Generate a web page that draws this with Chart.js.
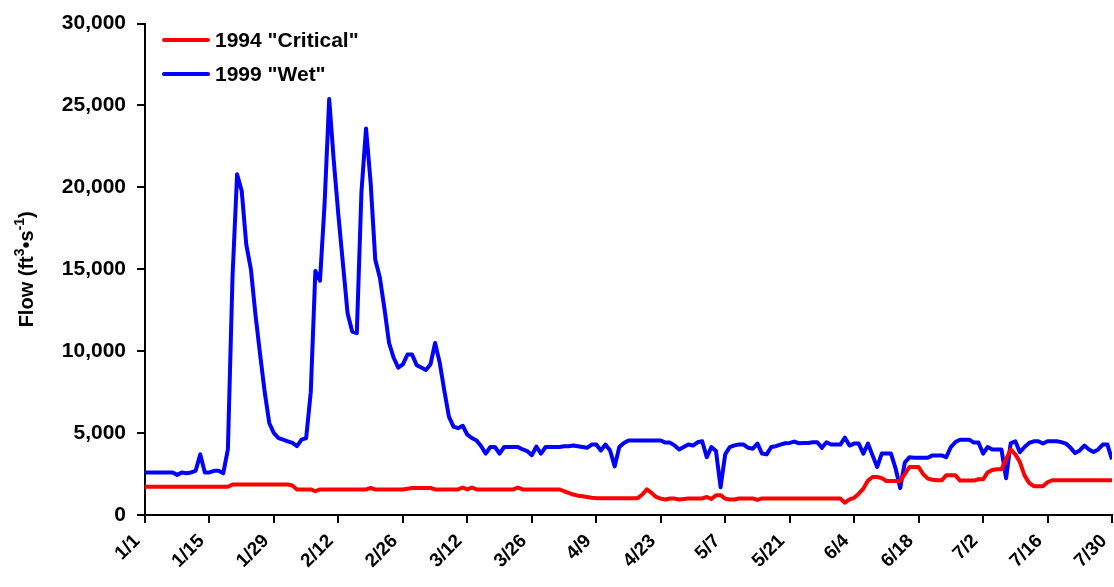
<!DOCTYPE html>
<html>
<head>
<meta charset="utf-8">
<script src="https://cdn.jsdelivr.net/npm/chart.js@4/dist/chart.umd.min.js"></script>
<style>
  html, body { margin: 0; padding: 0; background: #fff; }
  #wrap { width: 1114px; height: 587px; }
</style>
</head>
<body>
<div id="wrap"><canvas id="flowChart"></canvas></div>
<script>
// Tick labels on the date axis (one every 14 days starting 1/1)
const dateLabels = ['1/1', '1/15', '1/29', '2/12', '2/26', '3/12', '3/26', '4/9',
                    '4/23', '5/7', '5/21', '6/4', '6/18', '7/2', '7/16', '7/30'];

// Daily flow, day 0 = 1/1 (ft3/s)
const flow1994 = [
    1720, 1720, 1720, 1720, 1720, 1720, 1720, 1720, 1720, 1720,
    1720, 1720, 1720, 1720, 1720, 1720, 1720, 1720, 1720, 1860,
    1860, 1860, 1860, 1860, 1860, 1860, 1860, 1860, 1860, 1860,
    1860, 1860, 1800, 1560, 1560, 1560, 1560, 1450, 1560, 1560,
    1560, 1560, 1560, 1560, 1560, 1560, 1560, 1560, 1560, 1650,
    1560, 1560, 1560, 1560, 1560, 1560, 1560, 1600, 1650, 1650,
    1650, 1650, 1650, 1560, 1560, 1560, 1560, 1560, 1560, 1680,
    1560, 1680, 1560, 1560, 1560, 1560, 1560, 1560, 1560, 1560,
    1560, 1680, 1560, 1560, 1560, 1560, 1560, 1560, 1560, 1560,
    1560, 1450, 1350, 1250, 1180, 1150, 1100, 1050, 1030, 1030,
    1030, 1030, 1030, 1030, 1030, 1030, 1030, 1030, 1250, 1560,
    1350, 1100, 1000, 950, 1010, 1000, 950, 980, 1010, 1010,
    1010, 1010, 1100, 980, 1210, 1210, 1000, 950, 950, 1010,
    1010, 1010, 1010, 920, 1010, 1010, 1010, 1010, 1010, 1010,
    1010, 1010, 1010, 1010, 1010, 1010, 1010, 1010, 1010, 1010,
    1010, 1010, 750, 950, 1050, 1300, 1610, 2100, 2320, 2320,
    2250, 2080, 2080, 2080, 2080, 2500, 2930, 2930, 2930, 2500,
    2220, 2150, 2120, 2120, 2420, 2420, 2420, 2100, 2100, 2100,
    2100, 2180, 2180, 2600, 2750, 2790, 2800, 3400, 4000, 3700,
    3230, 2420, 1960, 1760, 1760, 1760, 2000, 2120, 2120, 2120,
    2120, 2120, 2120, 2120, 2120, 2120, 2120, 2120, 2120, 2120,
    2120
];

const flow1999 = [
    2600, 2600, 2600, 2600, 2600, 2600, 2600, 2450, 2600, 2550,
    2600, 2700, 3700, 2600, 2600, 2700, 2700, 2550, 4000, 14500,
    20800, 19800, 16500, 15000, 12200, 9800, 7500, 5600, 5000, 4700,
    4600, 4500, 4400, 4200, 4600, 4700, 7500, 14900, 14300, 19000,
    25400, 21600, 18300, 15300, 12300, 11200, 11100, 19700, 23600, 20300,
    15600, 14500, 12600, 10500, 9600, 9000, 9200, 9800, 9800, 9150,
    9000, 8850, 9200, 10500, 9300, 7600, 6000, 5400, 5300, 5450,
    4900, 4700, 4550, 4200, 3750, 4150, 4150, 3750, 4150, 4150,
    4150, 4150, 4000, 3900, 3650, 4180, 3750, 4150, 4150, 4150,
    4150, 4200, 4200, 4240, 4200, 4150, 4100, 4300, 4300, 3940,
    4300, 3940, 2970, 4150, 4400, 4550, 4550, 4550, 4550, 4550,
    4550, 4550, 4550, 4420, 4420, 4250, 4000, 4150, 4300, 4240,
    4440, 4500, 3530, 4150, 3900, 1700, 3700, 4150, 4250, 4300,
    4300, 4100, 4050, 4360, 3750, 3700, 4150, 4200, 4300, 4380,
    4400, 4480, 4380, 4400, 4400, 4440, 4440, 4100, 4440, 4300,
    4300, 4300, 4720, 4240, 4360, 4360, 3750, 4360, 3640, 2930,
    3750, 3750, 3750, 2850, 1640, 3200, 3530, 3500, 3500, 3500,
    3500, 3640, 3640, 3640, 3530, 4150, 4450, 4600, 4600, 4600,
    4420, 4420, 3750, 4150, 4000, 4000, 4000, 2240, 4380, 4500,
    3840, 4150, 4400, 4500, 4500, 4360, 4500, 4500, 4500, 4450,
    4360, 4100, 3780, 3940, 4240, 4000, 3840, 4000, 4300, 4300,
    3400
];

const seriesNames = ['1994 "Critical"', '1999 "Wet"'];
const seriesColors = ['#ff0000', '#0000ff'];

const FONT = '"Liberation Sans", Arial, sans-serif';

const toPoints = arr => arr.map((v, i) => ({ x: i, y: v }));

// Legend drawn inside the plot area, top-left
const insideLegend = {
    id: 'insideLegend',
    afterDraw(chart) {
        const ctx = chart.ctx;
        ctx.save();
        chart.data.datasets.forEach((ds, i) => {
            const y = 40 + i * 34;
            ctx.strokeStyle = ds.borderColor;
            ctx.lineWidth = 4;
            ctx.lineCap = 'round';
            ctx.beginPath();
            ctx.moveTo(164, y);
            ctx.lineTo(208, y);
            ctx.stroke();
            ctx.fillStyle = '#000';
            ctx.font = 'bold 21px ' + FONT;
            ctx.textBaseline = 'middle';
            ctx.fillText(ds.label, 215, y + 1);
        });
        ctx.restore();
    }
};

// Y axis title with real superscripts: Flow (ft^3 • s^-1)
const yTitle = {
    id: 'yTitle',
    afterDraw(chart) {
        const ctx = chart.ctx;
        const parts = [
            { t: 'Flow (ft', sup: false },
            { t: '3', sup: true },
            { t: '•s', sup: false },
            { t: '-1', sup: true },
            { t: ')', sup: false }
        ];
        const big = 'bold 20px ' + FONT, small = 'bold 14px ' + FONT;
        ctx.save();
        let total = 0;
        parts.forEach(p => { ctx.font = p.sup ? small : big; p.w = ctx.measureText(p.t).width; total += p.w; });
        const cy = (chart.chartArea.top + chart.chartArea.bottom) / 2;
        ctx.translate(33, cy);
        ctx.rotate(-Math.PI / 2);
        ctx.fillStyle = '#000';
        ctx.textBaseline = 'alphabetic';
        let x = -total / 2;
        parts.forEach(p => {
            ctx.font = p.sup ? small : big;
            ctx.fillText(p.t, x, p.sup ? -9 : 0);
            x += p.w;
        });
        ctx.restore();
    }
};

new Chart(document.getElementById('flowChart'), {
    type: 'line',
    data: {
        datasets: [
            {
                label: seriesNames[0],
                data: toPoints(flow1994),
                borderColor: seriesColors[0],
                borderWidth: 4,
                pointRadius: 0,
                tension: 0,
                borderJoinStyle: 'round'
            },
            {
                label: seriesNames[1],
                data: toPoints(flow1999),
                borderColor: seriesColors[1],
                borderWidth: 4,
                pointRadius: 0,
                tension: 0,
                borderJoinStyle: 'round'
            }
        ]
    },
    options: {
        responsive: true,
        maintainAspectRatio: false,
        animation: false,
        layout: { padding: { top: 20, right: 2, left: 0, bottom: 0 } },
        plugins: {
            legend: { display: false },
            tooltip: { enabled: false }
        },
        scales: {
            x: {
                type: 'linear',
                min: 0,
                max: 210,
                afterFit: s => { s.height = 72; s.paddingRight = 0; s.paddingLeft = 0; },
                border: { color: '#000', width: 2 },
                grid: { drawOnChartArea: false, drawTicks: true, tickLength: 8, color: '#000', lineWidth: 2 },
                ticks: {
                    stepSize: 14,
                    autoSkip: false,
                    minRotation: 45,
                    maxRotation: 45,
                    padding: 7,
                    labelOffset: -8,
                    color: '#000',
                    font: { family: FONT, size: 19, weight: 'bold' },
                    callback: v => dateLabels[Math.round(v / 14)]
                }
            },
            y: {
                min: 0,
                max: 30000,
                afterFit: s => { s.width = 145; },
                border: { color: '#000', width: 2 },
                grid: { drawOnChartArea: false, drawTicks: true, tickLength: 8, color: '#000', lineWidth: 2 },
                ticks: {
                    stepSize: 5000,
                    padding: 11,
                    color: '#000',
                    font: { family: FONT, size: 21, weight: 'bold' },
                    callback: v => v.toLocaleString('en-US')
                }
            }
        }
    },
    plugins: [insideLegend, yTitle]
});
</script>
</body>
</html>
